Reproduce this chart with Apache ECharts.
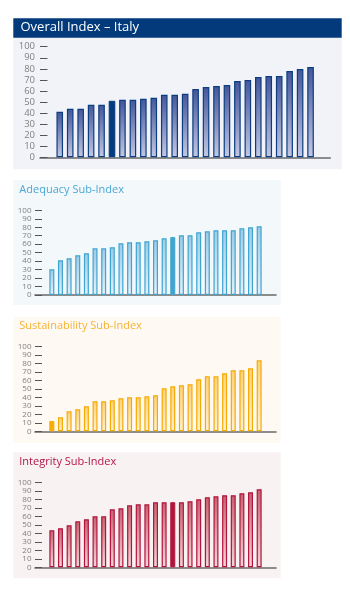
<!DOCTYPE html>
<html>
<head>
<meta charset="utf-8">
<script src="https://cdn.jsdelivr.net/npm/echarts@6/dist/echarts.min.js"></script>
<style>
html,body{margin:0;padding:0;background:#ffffff;}
#chart{width:350px;height:600px;}
</style>
</head>
<body>
<div id="chart"></div>
<script>
// ---- Data (25 countries, ranked) ----
const ranks = [1,2,3,4,5,6,7,8,9,10,11,12,13,14,15,16,17,18,19,20,21,22,23,24,25];
const yTicks = [0,10,20,30,40,50,60,70,80,90,100];

const overallTitle = 'Overall Index – Italy';
const overallValues = [41.1,43.9,43.9,47.5,47.5,51.1,52.0,52.0,52.9,53.8,56.6,56.6,57.5,61.7,63.5,64.4,65.3,69.0,69.9,72.6,73.5,73.5,78.0,79.9,81.7];
const overallItaly = 6;

const adequacyTitle = 'Adequacy Sub-Index';
const adequacyValues = [30.3,40.9,43.3,46.9,49.2,55.1,55.1,56.3,61.0,62.2,62.2,63.4,64.6,66.9,68.5,70.5,70.5,74.0,75.2,76.4,76.4,76.4,78.7,79.9,81.1];
const adequacyItaly = 15;

const sustainabilityTitle = 'Sustainability Sub-Index';
const sustainabilityValues = [12.2,16.5,23.5,25.9,29.4,35.3,35.3,36.5,38.8,40.0,40.0,41.2,42.4,50.6,52.9,54.1,55.3,61.2,64.7,64.7,68.2,71.8,71.8,74.1,83.5];
const sustainabilityItaly = 1;

const integrityTitle = 'Integrity Sub-Index';
const integrityValues = [43.5,45.9,49.4,54.1,56.5,60.0,60.0,68.2,69.4,72.9,74.1,74.1,76.5,76.6,76.6,76.6,77.7,80.1,82.4,83.6,84.8,84.8,87.2,88.3,91.9];
const integrityItaly = 15;

// ---- Styling / layout ----
const panels = [
  {values: overallValues, italy: overallItaly, top: 46.7, height: 110.6, left: 40, right: 19.7, pad: 1.89,
   barWidth: 6.6, border: '#0b3d80', topC: '#44569a', botC: '#c4c8e3', hi: '#053a7c', labelSize: 9.5, labelMargin: 5, tickLen: 7.5},
  {values: adequacyValues, italy: adequacyItaly, top: 210.3, height: 84.7, left: 35, right: 74, pad: 1.95,
   barWidth: 5, border: '#3ea5d0', topC: '#9dcbe7', botC: '#e4f0f9', hi: '#41a6cf', labelSize: 8, labelMargin: 3.5, tickLen: 7},
  {values: sustainabilityValues, italy: sustainabilityItaly, top: 346.3, height: 85, left: 35, right: 74, pad: 1.95,
   barWidth: 5, border: '#f6ab00', topC: '#fcd17c', botC: '#fff1d6', hi: '#f7ab00', labelSize: 8, labelMargin: 3.5, tickLen: 7},
  {values: integrityValues, italy: integrityItaly, top: 482.3, height: 85, left: 35, right: 74, pad: 1.95,
   barWidth: 5, border: '#b3133f', topC: '#c5636f', botC: '#f3d7d7', hi: '#b0163b', labelSize: 8, labelMargin: 3.5, tickLen: 7}
];

const grids = [], xAxes = [], yAxes = [], series = [];
panels.forEach((p, gi) => {
  grids.push({left: p.left, right: p.right, top: p.top, height: p.height, containLabel: false});
  xAxes.push({
    type: 'value', gridIndex: gi, min: 1 - p.pad, max: ranks.length + p.pad,
    axisLine: {show: true, onZero: false, lineStyle: {color: '#6a6a6a', width: 1.6}},
    axisTick: {show: false}, axisLabel: {show: false}, splitLine: {show: false}
  });
  yAxes.push({
    type: 'value', gridIndex: gi, min: yTicks[0], max: yTicks[yTicks.length - 1], interval: 10,
    axisLine: {show: false, onZero: false},
    axisTick: {show: true, inside: true, length: p.tickLen, lineStyle: {color: '#555555', width: 1}},
    axisLabel: {show: true, color: '#808080', fontSize: p.labelSize, fontFamily: 'Open Sans', margin: p.labelMargin,
      padding: [p.labelSize * 0.6, 0, 0, 0]},
    splitLine: {show: false}
  });
  const grad = new echarts.graphic.LinearGradient(0, 0, 0, 1, [
    {offset: 0, color: p.topC}, {offset: 1, color: p.botC}
  ]);
  series.push({
    type: 'bar', xAxisIndex: gi, yAxisIndex: gi, barWidth: p.barWidth, silent: true,
    data: p.values.map((v, i) => {
      const isItaly = ranks[i] === p.italy;
      return {
        value: [ranks[i], v],
        itemStyle: isItaly
          ? {color: p.hi, borderColor: p.hi, borderWidth: 1}
          : {color: grad, borderColor: p.border, borderWidth: 1.2}
      };
    })
  });
});

const graphic = [
  // panel backgrounds
  {type: 'rect', z: -10, shape: {x: 13.3, y: 37.7, width: 328.4, height: 131.6}, style: {fill: '#f1f3f8'}},
  {type: 'rect', z: -10, shape: {x: 13.3, y: 18.3, width: 328.4, height: 19.4}, style: {fill: '#023a7b'}},
  {type: 'text', z: 10, left: 20.5, top: 20.5, style: {text: overallTitle, fill: '#ffffff', fontSize: 13, fontFamily: 'Open Sans'}},
  {type: 'rect', z: -10, shape: {x: 13.3, y: 180, width: 267.4, height: 125}, style: {fill: '#f3f8fb'}},
  {type: 'text', z: 10, left: 19.3, top: 184, style: {text: adequacyTitle, fill: '#4aa7d6', fontSize: 11, fontFamily: 'Open Sans'}},
  {type: 'rect', z: -10, shape: {x: 13.3, y: 316.7, width: 267.4, height: 126}, style: {fill: '#fefaf3'}},
  {type: 'text', z: 10, left: 19.3, top: 320, style: {text: sustainabilityTitle, fill: '#f7b236', fontSize: 11, fontFamily: 'Open Sans'}},
  {type: 'rect', z: -10, shape: {x: 13.3, y: 452.3, width: 267.4, height: 126}, style: {fill: '#f9f2f3'}},
  {type: 'text', z: 10, left: 19.3, top: 456.3, style: {text: integrityTitle, fill: '#b51549', fontSize: 11, fontFamily: 'Open Sans'}}
];

const chart = echarts.init(document.getElementById('chart'), null, {renderer: 'canvas'});
chart.setOption({
  animation: false,
  backgroundColor: '#ffffff',
  grid: grids, xAxis: xAxes, yAxis: yAxes, series: series, graphic: graphic
});
</script>
</body>
</html>
